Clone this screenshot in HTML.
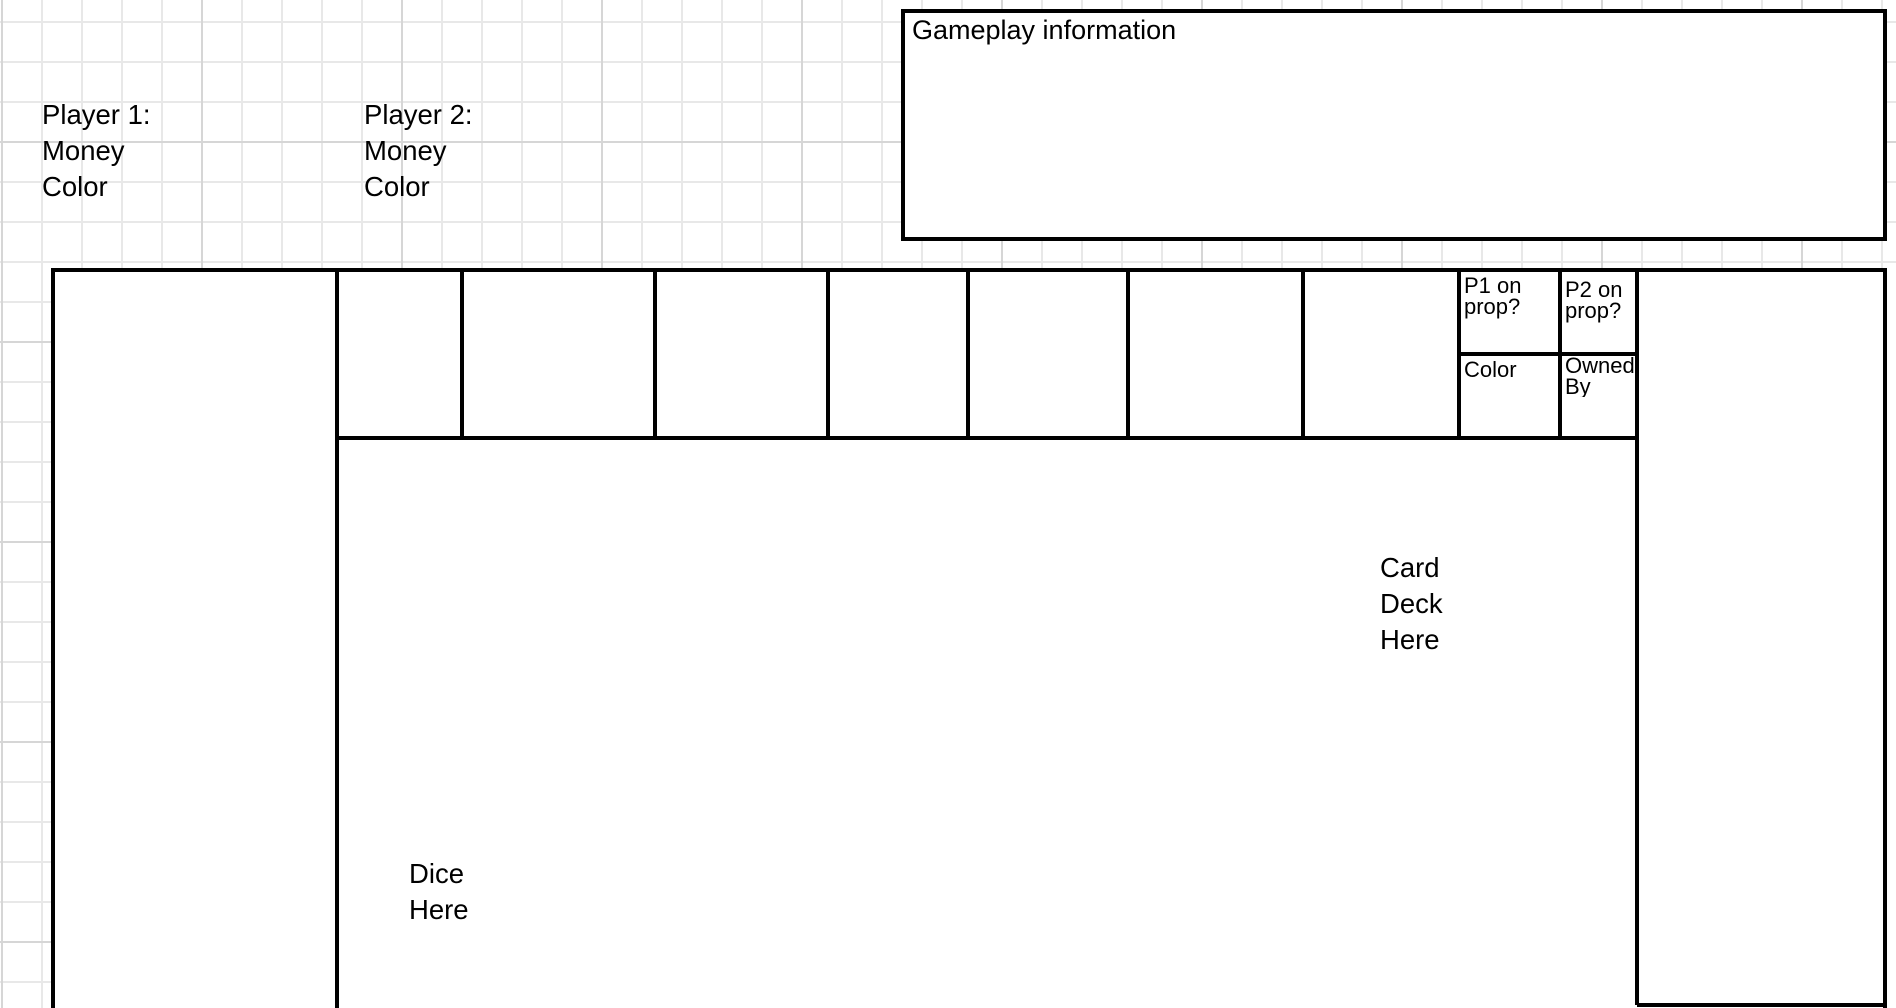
<!DOCTYPE html>
<html><head><meta charset="utf-8"><style>
html,body{margin:0;padding:0;width:1896px;height:1008px;overflow:hidden;background:#fff;}
body{position:relative;font-family:"Liberation Sans",Arial,sans-serif;color:#000;
background-image:
linear-gradient(to right,#d6d6d6 2px,transparent 2px),
linear-gradient(to bottom,#d6d6d6 2px,transparent 2px),
linear-gradient(to right,#e8e8e8 2px,transparent 2px),
linear-gradient(to bottom,#e8e8e8 2px,transparent 2px);
background-size:200px 200px,200px 200px,40px 40px,40px 40px;
background-position:1px 0,0 141px,1px 0,0 21px;}
.t{position:absolute;white-space:nowrap;}
.big{font-size:27.5px;line-height:36px;}
.sm{font-size:22px;line-height:21px;}
</style></head><body>
<svg width="1896" height="1008" style="position:absolute;left:0;top:0">
<rect x="903" y="11" width="982" height="228" fill="#fff" stroke="#000" stroke-width="4"/>
<rect x="53" y="270" width="1832" height="760" fill="#fff" stroke="#000" stroke-width="4"/>
<g stroke="#000" stroke-width="4" fill="none">
<line x1="337" y1="270" x2="337" y2="1010"/>
<line x1="337" y1="438" x2="1637" y2="438"/>
<line x1="462" y1="270" x2="462" y2="438"/>
<line x1="655" y1="270" x2="655" y2="438"/>
<line x1="828" y1="270" x2="828" y2="438"/>
<line x1="968" y1="270" x2="968" y2="438"/>
<line x1="1128" y1="270" x2="1128" y2="438"/>
<line x1="1303" y1="270" x2="1303" y2="438"/>
<line x1="1459" y1="270" x2="1459" y2="438"/>
<line x1="1560" y1="270" x2="1560" y2="438"/>
<line x1="1459" y1="354" x2="1637" y2="354"/>
<line x1="1637" y1="270" x2="1637" y2="1005"/>
<line x1="1637" y1="1005" x2="1885" y2="1005"/>
</g>
<rect x="1887" y="268" width="9" height="740" fill="#fff"/>
<line x1="1885" y1="268" x2="1885" y2="1007" stroke="#000" stroke-width="4"/>
</svg>
<div class="t" style="left:912px;top:15px;font-size:27px;line-height:30px">Gameplay information</div>
<div class="t big" style="left:42px;top:97px">Player 1:<br>Money<br>Color</div>
<div class="t big" style="left:364px;top:97px">Player 2:<br>Money<br>Color</div>
<div class="t sm" style="left:1464px;top:275px">P1 on<br>prop?</div>
<div class="t sm" style="left:1565px;top:279px">P2 on<br>prop?</div>
<div class="t sm" style="left:1464px;top:359px">Color</div>
<div class="t sm" style="left:1565px;top:355px;width:70px;overflow:hidden">Owned<br>By</div>
<div class="t big" style="left:1380px;top:550px">Card<br>Deck<br>Here</div>
<div class="t big" style="left:409px;top:856px">Dice<br>Here</div>
</body></html>
